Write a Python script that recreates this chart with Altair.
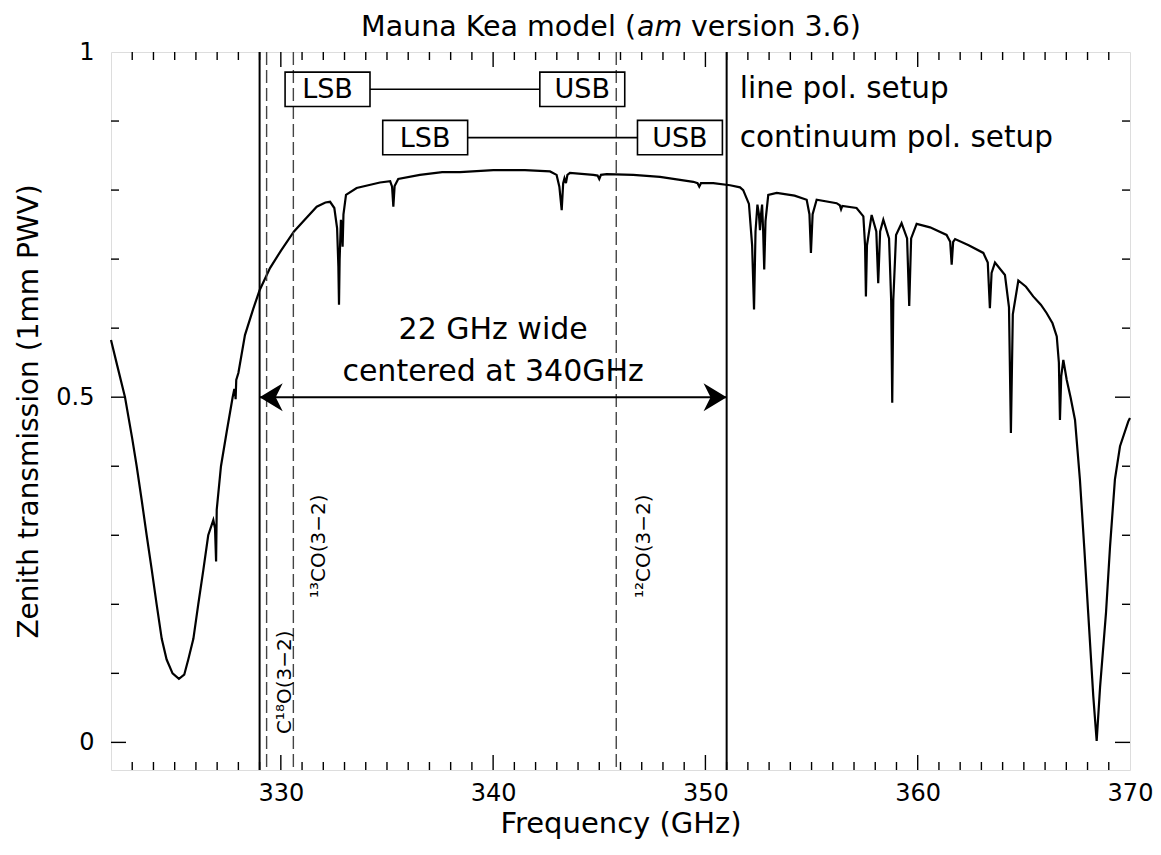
import altair as alt
import pandas as pd

# ---------------- data ----------------
freq_ghz = [322.0, 322.3, 322.66, 323.0, 323.21, 323.45, 323.68, 323.92, 324.15, 324.39,
            324.62, 324.9, 325.2, 325.45, 325.64, 325.88, 326.11, 326.35, 326.58, 326.82, 326.9,
            326.95, 326.98, 327.18, 327.45, 327.73, 327.81, 327.85, 327.87, 327.9, 328.0,
            328.31, 328.7, 329.0, 329.49, 330.0, 330.62, 331.06, 331.69, 332.1, 332.32,
            332.52, 332.65, 332.71, 332.74, 332.77, 332.83, 332.87, 332.91, 332.95, 333.07,
            333.57, 334.67, 335.15, 335.24, 335.3, 335.36, 335.53, 336.55, 337.6, 338.44,
            340.01, 341.5, 342.68, 342.99, 343.12, 343.23, 343.3, 343.36, 343.43, 343.5,
            343.62, 344.72, 344.92, 345.0, 345.08, 345.35, 346.6, 347.86, 349.43, 349.63,
            349.71, 349.79, 350.37, 351.16, 351.63, 351.78, 352.05, 352.2, 352.29, 352.36,
            352.45, 352.52, 352.57, 352.62, 352.67, 352.72, 352.77, 352.83, 352.96, 353.36,
            354.2, 354.77, 354.9, 354.97, 355.05, 355.24, 356.18, 356.33, 356.39, 356.45,
            357.12, 357.44, 357.52, 357.56, 357.61, 357.83, 358.05, 358.14, 358.23, 358.38,
            358.65, 358.75, 358.8, 358.85, 358.98, 359.24, 359.5, 359.6, 359.69, 359.95,
            360.58, 361.36, 361.53, 361.6, 361.67, 361.76, 362.4, 363.09, 363.3, 363.4,
            363.48, 363.64, 364.11, 364.3, 364.39, 364.48, 364.74, 365.1, 365.44, 365.8,
            366.07, 366.35, 366.55, 366.65, 366.7, 366.76, 366.86, 367.02, 367.2, 367.41,
            367.64, 367.85, 368.03, 368.27, 368.43, 368.59, 368.87, 369.06, 369.29, 369.53,
            369.92, 370.0]
transmission = [0.583, 0.545, 0.5, 0.44, 0.4, 0.35, 0.3, 0.25, 0.2, 0.15,
                0.12, 0.1, 0.092, 0.098, 0.12, 0.15, 0.2, 0.25, 0.3, 0.322, 0.31,
                0.262, 0.337, 0.4, 0.45, 0.5, 0.512, 0.505, 0.497, 0.525, 0.535,
                0.59, 0.628, 0.655, 0.687, 0.712, 0.74, 0.755, 0.776, 0.782, 0.783,
                0.774, 0.745, 0.69, 0.634, 0.7, 0.757, 0.745, 0.718, 0.765, 0.793,
                0.803, 0.811, 0.813, 0.805, 0.776, 0.806, 0.816, 0.822, 0.826, 0.826,
                0.829, 0.829, 0.827, 0.822, 0.805, 0.771, 0.81, 0.817, 0.81, 0.822,
                0.825, 0.822, 0.821, 0.816, 0.822, 0.823, 0.822, 0.819, 0.812, 0.81,
                0.805, 0.81, 0.81, 0.807, 0.804, 0.8, 0.78, 0.72, 0.627, 0.74,
                0.779, 0.765, 0.742, 0.765, 0.779, 0.74, 0.685, 0.755, 0.793, 0.796,
                0.792, 0.786, 0.765, 0.709, 0.765, 0.786, 0.781, 0.778, 0.772, 0.777,
                0.774, 0.762, 0.72, 0.646, 0.72, 0.764, 0.74, 0.665, 0.74, 0.757,
                0.73, 0.64, 0.492, 0.64, 0.735, 0.752, 0.73, 0.632, 0.73, 0.751,
                0.746, 0.735, 0.725, 0.692, 0.725, 0.729, 0.72, 0.709, 0.695, 0.629,
                0.68, 0.695, 0.677, 0.63, 0.448, 0.62, 0.669, 0.66, 0.646, 0.634,
                0.622, 0.607, 0.588, 0.55, 0.467, 0.53, 0.554, 0.525, 0.5, 0.467,
                0.381, 0.28, 0.188, 0.067, 0.002, 0.08, 0.188, 0.284, 0.381, 0.429,
                0.465, 0.47]

band_edges = [329.0, 351.0]                       # 22 GHz wide, centred at 340 GHz
band_center = 340.0
line_freqs = [329.33, 330.59, 345.80]             # C18O, 13CO, 12CO (3-2)
line_names = ["C\u00b9\u2078O(3\u22122)", "\u00b9\u00b3CO(3\u22122)", "\u00b9\u00b2CO(3\u22122)"]
setup_names = ["line pol. setup", "continuum pol. setup"]
sb_names = ["LSB", "USB"]
line_setup_lo = [330.2, 342.2]                    # LSB / USB start, line setup
line_setup_hi = [334.2, 346.2]
cont_setup_lo = [334.8, 346.8]                    # LSB / USB start, continuum setup
cont_setup_hi = [338.8, 350.8]
x_labels = [330, 340, 350, 360, 370]
x_minor = list(range(323, 370))
y_labels = [0, 0.5, 1]
y_minor = [0.1, 0.2, 0.3, 0.4, 0.6, 0.7, 0.8, 0.9]

# ---------------- layout / style ----------------
W, H = 1019, 718
FONT = "DejaVu Sans"
xs = alt.Scale(domain=[322, 370], nice=False, zero=False)
ys = alt.Scale(domain=[-0.04, 1.0], nice=False, zero=False)
MINOR, MAJOR = 8, 15
ROW_T = [0.946, 0.876]           # centre of the two setup rows
ROW_H = 0.0249                   # half box height in data units

AX = alt.Axis(values=x_labels, ticks=False, domain=False, grid=False, labelFlush=False,
              labelFont=FONT, labelFontSize=24, labelPadding=11, labelColor="black",
              title="Frequency (GHz)", titleFont=FONT, titleFontSize=29,
              titleFontWeight="normal", titleColor="black", titlePadding=4)
AY = alt.Axis(values=y_labels, format="~g", ticks=False, domain=False, grid=False,
              labelFont=FONT, labelFontSize=24, labelPadding=17, labelColor="black",
              title="Zenith transmission (1mm PWV)", titleFont=FONT, titleFontSize=28,
              titleFontWeight="normal", titleColor="black", titlePadding=12)


def X(field="f"):
    return alt.X(field + ":Q", scale=xs, axis=AX)


def Y(field="t"):
    return alt.Y(field + ":Q", scale=ys, axis=AY)


curve = alt.Chart(pd.DataFrame({"f": freq_ghz, "t": transmission})).mark_line(
    color="black", strokeWidth=2.2).encode(x=X(), y=Y())

band_rules = alt.Chart(pd.DataFrame({"f": band_edges})).mark_rule(
    color="black", strokeWidth=2).encode(x=X(), y=alt.value(0), y2=alt.value(H))

line_rules = alt.Chart(pd.DataFrame({"f": line_freqs})).mark_rule(
    color="#444444", strokeWidth=1.4, strokeDash=[13, 5]).encode(
    x=X(), y=alt.value(0), y2=alt.value(H))

arrow_line = alt.Chart(pd.DataFrame({"f": [band_edges[0]], "f2": [band_edges[1]], "t": [0.5]})).mark_rule(
    color="black", strokeWidth=2).encode(x=X(), x2="f2:Q", y=Y())

head_l = alt.Chart(pd.DataFrame({"f": [band_edges[0]], "t": [0.5]})).mark_point(
    shape="M0,0 L1.65,-1 L1.15,0 L1.65,1 Z", size=784, filled=True, color="black",
    opacity=1).encode(x=X(), y=Y())
head_r = alt.Chart(pd.DataFrame({"f": [band_edges[1]], "t": [0.5]})).mark_point(
    shape="M0,0 L-1.65,-1 L-1.15,0 L-1.65,1 Z", size=784, filled=True, color="black",
    opacity=1).encode(x=X(), y=Y())

arrow_text = alt.Chart(pd.DataFrame({
    "f": [band_center, band_center], "t": [0.597, 0.5365],
    "txt": ["22 GHz wide", "centered at 340GHz"]})).mark_text(
    font=FONT, fontSize=30, color="black", baseline="middle", align="center").encode(
    x=X(), y=Y(), text="txt:N")

# setup boxes
box_rows = []
for lo_list, hi_list, rt in [(line_setup_lo, line_setup_hi, ROW_T[0]),
                             (cont_setup_lo, cont_setup_hi, ROW_T[1])]:
    for name, lo, hi in zip(sb_names, lo_list, hi_list):
        box_rows.append({"f": lo, "f2": hi, "t": rt - ROW_H, "t2": rt + ROW_H,
                         "fc": (lo + hi) / 2, "tc": rt, "name": name})
box_df = pd.DataFrame(box_rows)
boxes = alt.Chart(box_df).mark_rect(fill=None, stroke="black", strokeWidth=1.6).encode(
    x=X(), x2="f2:Q", y=Y(), y2="t2:Q")
box_text = alt.Chart(box_df).mark_text(
    font=FONT, fontSize=27, color="black", baseline="middle", align="center", dy=1).encode(
    x=X("fc"), y=Y("tc"), text="name:N")

conn_df = pd.DataFrame({"f": [line_setup_hi[0], cont_setup_hi[0]],
                        "f2": [line_setup_lo[1], cont_setup_lo[1]],
                        "t": ROW_T})
connectors = alt.Chart(conn_df).mark_rule(color="black", strokeWidth=1.6).encode(
    x=X(), x2="f2:Q", y=Y())

setup_text = alt.Chart(pd.DataFrame({"f": [351.62, 351.62], "t": ROW_T, "txt": setup_names})).mark_text(
    font=FONT, fontSize=29.5, color="black", baseline="middle", align="left").encode(
    x=X(), y=Y(), text="txt:N")

line_text = alt.Chart(pd.DataFrame({"f": [330.48, 332.08, 347.39],
                                    "t": [0.012, 0.209, 0.209],
                                    "txt": line_names})).mark_text(
    font=FONT, fontSize=20, color="black", angle=270, align="left", baseline="alphabetic").encode(
    x=X(), y=Y(), text="txt:N")

# inward ticks on all four sides
xt_min = pd.DataFrame({"f": [v for v in x_minor if v not in x_labels]})
xt_maj = pd.DataFrame({"f": [v for v in x_labels if v < 370]})
RULE = dict(color="black", strokeWidth=1.4)
xt_bot = alt.Chart(xt_min).mark_rule(**RULE).encode(x=X(), y=alt.value(H), y2=alt.value(H - MINOR))
xt_bot_maj = alt.Chart(xt_maj).mark_rule(**RULE).encode(x=X(), y=alt.value(H), y2=alt.value(H - MAJOR))
xt_top = alt.Chart(xt_min).mark_rule(**RULE).encode(x=X(), y=alt.value(0), y2=alt.value(MINOR))
xt_top_maj = alt.Chart(xt_maj).mark_rule(**RULE).encode(x=X(), y=alt.value(0), y2=alt.value(MAJOR))

yt_min = pd.DataFrame({"t": y_minor})
yt_maj = pd.DataFrame({"t": [0, 0.5]})
yt_l = alt.Chart(yt_min).mark_rule(**RULE).encode(y=Y(), x=alt.value(0), x2=alt.value(MINOR))
yt_l_maj = alt.Chart(yt_maj).mark_rule(**RULE).encode(y=Y(), x=alt.value(0), x2=alt.value(MAJOR))
yt_r = alt.Chart(yt_min).mark_rule(**RULE).encode(y=Y(), x=alt.value(W), x2=alt.value(W - MINOR))
yt_r_maj = alt.Chart(yt_maj).mark_rule(**RULE).encode(y=Y(), x=alt.value(W), x2=alt.value(W - MAJOR))

# title with italic "am"
title_df = pd.DataFrame({"a": ["Mauna Kea model ("], "b": ["am"], "c": ["version 3.6)"]})
TF = dict(font=FONT, fontSize=28.5, color="black", baseline="alphabetic")
t1 = alt.Chart(title_df).mark_text(align="right", **TF).encode(
    x=alt.value(525), y=alt.value(-16), text="a:N")
t2 = alt.Chart(title_df).mark_text(align="left", fontStyle="italic", **TF).encode(
    x=alt.value(526), y=alt.value(-16), text="b:N")
t3 = alt.Chart(title_df).mark_text(align="left", **TF).encode(
    x=alt.value(580), y=alt.value(-16), text="c:N")

chart = alt.layer(
    curve, band_rules, line_rules, arrow_line, head_l, head_r, arrow_text,
    boxes, connectors, box_text, setup_text, line_text,
    xt_bot, xt_bot_maj, xt_top, xt_top_maj, yt_l, yt_l_maj, yt_r, yt_r_maj,
    t1, t2, t3,
).properties(
    width=W, height=H,
    padding={"left": 103, "top": 44, "right": 23, "bottom": 72},
    autosize=alt.AutoSizeParams(type="none"),
).configure_view(
    stroke="black", strokeWidth=2, fill="white"
).configure(background="white")

chart.save("out.html", embed_options={"renderer": "svg", "actions": False})
